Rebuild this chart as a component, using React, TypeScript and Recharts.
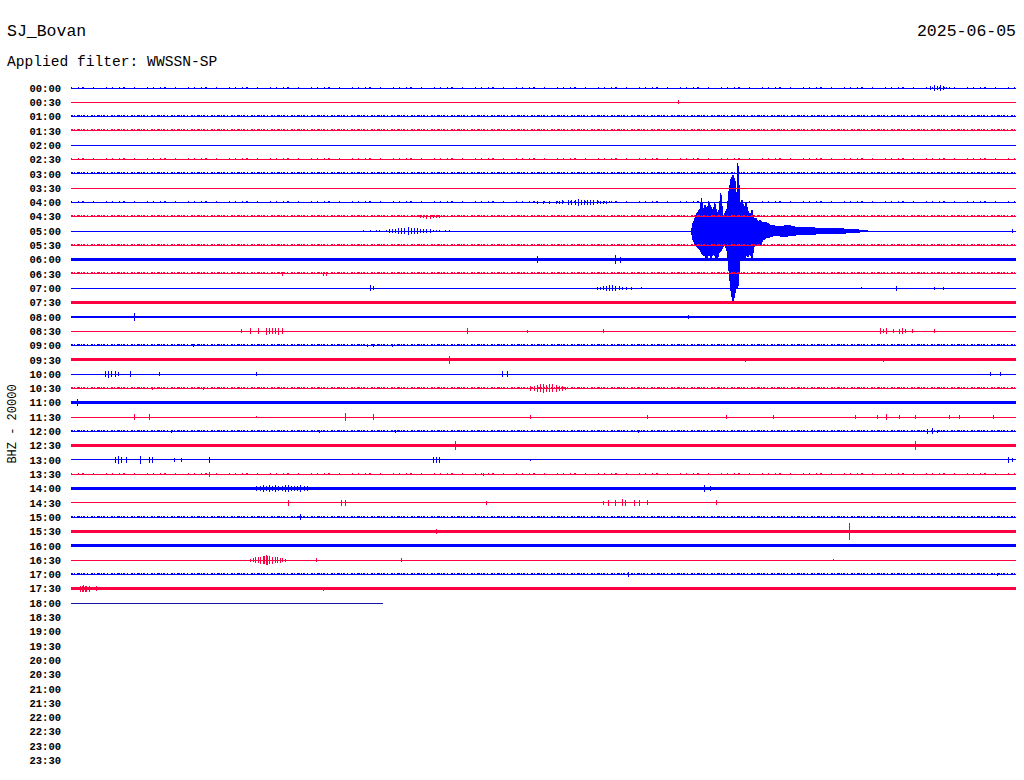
import React from 'react';
import { ComposedChart, Line, Area, XAxis, YAxis } from 'recharts';

const stationName = 'SJ_Bovan';
const filterText = 'Applied filter: WWSSN-SP';
const dateText = '2025-06-05';
const channelLabel = 'BHZ - 20000';

const timeLabels = [
  '00:00', '00:30', '01:00', '01:30', '02:00', '02:30', '03:00', '03:30',
  '04:00', '04:30', '05:00', '05:30', '06:00', '06:30', '07:00', '07:30',
  '08:00', '08:30', '09:00', '09:30', '10:00', '10:30', '11:00', '11:30',
  '12:00', '12:30', '13:00', '13:30', '14:00', '14:30', '15:00', '15:30',
  '16:00', '16:30', '17:00', '17:30', '18:00', '18:30', '19:00', '19:30',
  '20:00', '20:30', '21:00', '21:30', '22:00', '22:30', '23:00', '23:30',
];

// background noise level per recorded row (0 quiet .. 3 strong)
const rowNoise = [
  1, 0, 2, 2, 0, 1, 2, 0, 1, 2, 0, 2, 3, 2, 0, 3, 3, 0,
  2, 3, 0, 2, 3, 0, 2, 3, 0, 1, 3, 0, 2, 3, 3, 0, 2, 3, 0,
];

// minutes recorded in each row (last row is partial)
const rowMinutes = [
  30, 30, 30, 30, 30, 30, 30, 30, 30, 30, 30, 30, 30, 30, 30, 30, 30, 30,
  30, 30, 30, 30, 30, 30, 30, 30, 30, 30, 30, 30, 30, 30, 30, 30, 30, 30, 9.91,
];

// transient events per row: [minute, amplitude in row units]
const rowEvents: number[][][] = [
  [[27.3, 0.15], [27.4, 0.2], [27.5, 0.15], [27.6, 0.22], [27.7, 0.12], [27.8, 0.1], [27.9, 0.08]],
  [[19.3, 0.15]],
  [],
  [],
  [],
  [],
  [],
  [],
  [[14.8, 0.08], [15.0, 0.1], [15.2, 0.1], [15.4, 0.12], [15.5, 0.12], [15.6, 0.14], [15.8, 0.15], [15.9, 0.18], [16.0, 0.2], [16.1, 0.25], [16.2, 0.2], [16.3, 0.18], [16.4, 0.15], [16.5, 0.16], [16.6, 0.18], [16.7, 0.14], [16.8, 0.12], [16.9, 0.1], [17.0, 0.1], [17.1, 0.07]],
  [[11.1, 0.1], [11.2, 0.12], [11.3, 0.15], [11.4, 0.14], [11.5, 0.12], [11.6, 0.1], [11.7, 0.1]],
  [[9.3, 0.05], [9.5, 0.07], [9.7, 0.08], [9.8, 0.1], [10.0, 0.1], [10.1, 0.12], [10.2, 0.12], [10.3, 0.15], [10.4, 0.18], [10.5, 0.2], [10.6, 0.22], [10.7, 0.25], [10.8, 0.22], [10.9, 0.2], [11.0, 0.18], [11.1, 0.15], [11.2, 0.14], [11.3, 0.12], [11.4, 0.12], [11.5, 0.1], [11.6, 0.08], [11.7, 0.08], [11.9, 0.06], [12.0, 0.06], [29.9, 0.15]],
  [],
  [[14.8, 0.25], [17.3, 0.3], [17.45, 0.2]],
  [[6.7, 0.12], [8.0, 0.15], [8.1, 0.15]],
  [[9.5, 0.2], [9.6, 0.15], [16.7, 0.1], [16.8, 0.12], [16.9, 0.15], [17.0, 0.18], [17.1, 0.2], [17.2, 0.2], [17.3, 0.18], [17.4, 0.15], [17.5, 0.12], [17.65, 0.1], [17.8, 0.1], [18.1, 0.08], [25.1, 0.08], [26.2, 0.18], [27.4, 0.1], [27.7, 0.12]],
  [[27.5, 0.1]],
  [[2.0, 0.3], [19.6, 0.12]],
  [[5.4, 0.15], [5.7, 0.2], [5.95, 0.2], [6.2, 0.25], [6.3, 0.2], [6.4, 0.2], [6.5, 0.22], [6.6, 0.25], [6.7, 0.2], [12.6, 0.2], [14.5, 0.1], [16.9, 0.12], [25.7, 0.2], [25.8, 0.15], [25.9, 0.2], [26.1, 0.15], [26.3, 0.18], [26.4, 0.2], [26.5, 0.15], [26.7, 0.15], [27.4, 0.15]],
  [[3.9, 0.12], [9.4, 0.12], [9.6, 0.12], [10.2, 0.1]],
  [[12.0, 0.3], [21.4, 0.12], [25.8, 0.15]],
  [[1.1, 0.2], [1.2, 0.25], [1.3, 0.2], [1.4, 0.22], [1.5, 0.15], [1.9, 0.2], [2.8, 0.12], [5.9, 0.12], [13.7, 0.2], [13.85, 0.2], [29.2, 0.15], [29.5, 0.12]],
  [[2.6, 0.1], [4.2, 0.1], [14.6, 0.15], [14.7, 0.2], [14.8, 0.25], [14.9, 0.28], [15.0, 0.3], [15.1, 0.25], [15.2, 0.28], [15.3, 0.28], [15.4, 0.22], [15.5, 0.2], [15.6, 0.15], [15.7, 0.12]],
  [[0.2, 0.25], [10.9, 0.12], [11.6, 0.12]],
  [[2.0, 0.2], [2.5, 0.18], [5.9, 0.1], [8.7, 0.28], [9.6, 0.18], [14.6, 0.12], [18.3, 0.15], [20.8, 0.12], [22.3, 0.12], [24.9, 0.12], [25.6, 0.15], [25.9, 0.18], [26.3, 0.15], [26.8, 0.15], [27.9, 0.15], [28.2, 0.15], [29.3, 0.12]],
  [[3.2, 0.12], [7.9, 0.12], [10.3, 0.12], [18.0, 0.12], [27.2, 0.18], [27.35, 0.2], [27.5, 0.12]],
  [[12.2, 0.3], [17.7, 0.12], [26.8, 0.3]],
  [[1.4, 0.2], [1.5, 0.25], [1.6, 0.2], [1.75, 0.2], [2.2, 0.28], [2.5, 0.2], [2.6, 0.18], [3.3, 0.15], [3.5, 0.12], [4.4, 0.18], [11.5, 0.2], [11.6, 0.22], [11.7, 0.18], [14.6, 0.08], [29.75, 0.2], [29.9, 0.15]],
  [[4.4, 0.18], [13.1, 0.12]],
  [[5.9, 0.2], [6.0, 0.18], [6.1, 0.22], [6.2, 0.2], [6.3, 0.25], [6.4, 0.2], [6.5, 0.22], [6.6, 0.18], [6.7, 0.2], [6.8, 0.22], [6.9, 0.25], [7.0, 0.2], [7.1, 0.2], [7.2, 0.18], [7.3, 0.22], [7.4, 0.15], [7.5, 0.15], [20.1, 0.22], [20.3, 0.2]],
  [[6.9, 0.2], [8.6, 0.22], [8.7, 0.2], [13.2, 0.15], [16.9, 0.15], [17.05, 0.2], [17.3, 0.2], [17.5, 0.25], [17.6, 0.2], [17.9, 0.22], [18.05, 0.2], [18.3, 0.18], [20.5, 0.18]],
  [[7.3, 0.2]],
  [[11.6, 0.15], [23.2, 0.1], [24.7, 0.58]],
  [[23.8, 0.08]],
  [[5.7, 0.1], [5.8, 0.15], [5.85, 0.2], [5.95, 0.22], [6.0, 0.25], [6.1, 0.3], [6.15, 0.3], [6.2, 0.35], [6.25, 0.32], [6.3, 0.3], [6.4, 0.25], [6.5, 0.22], [6.55, 0.2], [6.65, 0.18], [6.7, 0.15], [6.8, 0.1], [7.8, 0.12], [10.5, 0.12], [24.2, 0.08]],
  [[17.7, 0.2], [29.4, 0.12]],
  [[0.3, 0.2], [0.35, 0.22], [0.4, 0.25], [0.45, 0.2], [0.5, 0.22], [0.6, 0.2], [0.8, 0.18], [8.0, 0.15]],
  [],
];

// the earthquake recorded on the 05:00 row: [minute, up, down] in row units
const quakeRow = 10;
const quakeEnvelope = [
  [19.70, 0, 0], [19.73, 0.49, 0.56], [19.78, 0.70, 0.77], [19.84, 1.12, 0.98], [19.90, 1.33, 1.19],
  [19.97, 1.54, 1.33], [20.02, 2.31, 1.54], [20.06, 1.40, 1.68], [20.13, 1.82, 1.75], [20.19, 1.54, 1.96],
  [20.25, 1.96, 1.61], [20.32, 1.68, 1.89], [20.38, 1.40, 1.54], [20.44, 1.96, 1.75], [20.51, 1.19, 2.03],
  [20.57, 1.40, 1.54], [20.63, 2.66, 1.40], [20.70, 0.98, 1.12], [20.76, 1.26, 0.98], [20.83, 1.54, 1.40],
  [20.89, 2.80, 2.80], [20.95, 3.63, 4.19], [21.02, 3.91, 5.03], [21.08, 3.49, 4.33], [21.14, 2.10, 3.63],
  [21.17, 4.75, 3.98], [21.24, 1.82, 1.96], [21.30, 2.17, 1.75], [21.37, 1.54, 2.03], [21.43, 1.96, 1.68],
  [21.49, 1.40, 1.82], [21.56, 1.12, 1.54], [21.62, 1.47, 1.96], [21.68, 0.84, 1.12], [21.75, 0.91, 0.98],
  [21.81, 0.63, 0.84], [21.87, 0.77, 1.05], [21.97, 0.56, 0.63], [22.06, 0.63, 0.49], [22.19, 0.42, 0.42],
  [22.35, 0.35, 0.28], [22.51, 0.28, 0.35], [22.73, 0.42, 0.35], [22.98, 0.28, 0.28], [23.30, 0.28, 0.21],
  [23.62, 0.21, 0.21], [24.10, 0.21, 0.14], [24.57, 0.14, 0.14], [25.05, 0.07, 0.07], [25.30, 0, 0],
];

const BLUE = '#0000ff';
const RED = '#ff0040';
const NAVY = '#1515a8';
const FONT = '"Liberation Mono", "DejaVu Sans Mono", monospace';

function rowColor(r: number) {
  if (r === rowNoise.length - 1) return NAVY;
  return r % 2 === 0 ? BLUE : RED;
}

function baseTrace(r: number) {
  return [{ x: 0, y: -r }, { x: rowMinutes[r], y: -r }];
}

function eventTrace(r: number) {
  const base = -r;
  const pts: { x: number; y: number }[] = [];
  const evs = [...rowEvents[r]].sort((a, b) => a[0] - b[0]);
  for (const [m, a] of evs) {
    pts.push({ x: m, y: base });
    pts.push({ x: m, y: base + a });
    pts.push({ x: m, y: base - a });
    pts.push({ x: m, y: base });
  }
  return pts;
}

function noiseTrace(r: number) {
  const y = -r + 0.07;
  return [{ x: 0, y }, { x: rowMinutes[r], y }];
}

const quakeData = quakeEnvelope.map(([m, up, down]) => ({
  x: m,
  range: [-quakeRow - down, -quakeRow + up],
}));

const yTicks = timeLabels.map((_, i) => -i);

function strokeFor(level: number) {
  if (level === 3) return 2.7;
  return 1;
}

function dashFor(level: number) {
  if (level === 1) return '1 6 1 3 2 9 1 12 1 5';
  return '2 1 1 2 3 1 1 1 2 2 1 3';
}

export default function App() {
  const series: React.ReactNode[] = [];
  rowNoise.forEach((lvl, r) => {
    const color = rowColor(r);
    series.push(
      <Line
        key={`row-${r}`}
        data={baseTrace(r)}
        dataKey="y"
        type="linear"
        stroke={color}
        strokeWidth={strokeFor(lvl)}
        dot={false}
        activeDot={false}
        isAnimationActive={false}
      />
    );
    if (lvl === 1 || lvl === 2) {
      series.push(
        <Line
          key={`noise-${r}`}
          data={noiseTrace(r)}
          dataKey="y"
          type="linear"
          stroke={color}
          strokeWidth={1}
          strokeDasharray={dashFor(lvl)}
          dot={false}
          activeDot={false}
          isAnimationActive={false}
        />
      );
    }
    if (rowEvents[r].length > 0) {
      series.push(
        <Line
          key={`ev-${r}`}
          data={eventTrace(r)}
          dataKey="y"
          type="linear"
          stroke={color}
          strokeWidth={1}
          dot={false}
          activeDot={false}
          isAnimationActive={false}
        />
      );
    }
    if (r === quakeRow) {
      series.push(
        <Area
          key="quake"
          data={quakeData}
          dataKey="range"
          type="linear"
          stroke={BLUE}
          strokeWidth={1}
          fill={BLUE}
          fillOpacity={1}
          dot={false}
          activeDot={false}
          isAnimationActive={false}
        />
      );
    }
  });

  return (
    <div style={{ position: 'absolute', left: 0, top: 0, width: 1024, height: 780, background: '#fff' }}>
      <style>{'.recharts-curve{shape-rendering:crispEdges}'}</style>
      <ComposedChart
        width={1024}
        height={780}
        margin={{ top: 59.39, right: 8, bottom: 5.31, left: 0 }}
      >
        <XAxis dataKey="x" type="number" domain={[0, 30]} hide allowDataOverflow />
        <YAxis
          type="number"
          domain={[-48, 2]}
          ticks={yTicks}
          interval={0}
          width={71}
          axisLine={false}
          tickLine={false}
          tickSize={0}
          tickMargin={10}
          allowDataOverflow
          tickFormatter={(v: number) => timeLabels[Math.round(-v)] ?? ''}
          tick={{ fontFamily: FONT, fontSize: 10.5, fontWeight: 'bold', fill: '#000' }}
        />
        {series}
      </ComposedChart>
      <svg
        width={1024}
        height={780}
        style={{ position: 'absolute', left: 0, top: 0, pointerEvents: 'none' }}
      >
        <text x={7} y={36} fontFamily={FONT} fontSize={16.5} fill="#000">{stationName}</text>
        <text x={7} y={66} fontFamily={FONT} fontSize={14.6} fill="#000">{filterText}</text>
        <text x={1016} y={36} fontFamily={FONT} fontSize={16.5} fill="#000" textAnchor="end">{dateText}</text>
        <text
          x={16}
          y={424}
          fontFamily={FONT}
          fontSize={12}
          fill="#000"
          textAnchor="middle"
          transform="rotate(-90 16 424)"
        >
          {channelLabel}
        </text>
      </svg>
    </div>
  );
}
